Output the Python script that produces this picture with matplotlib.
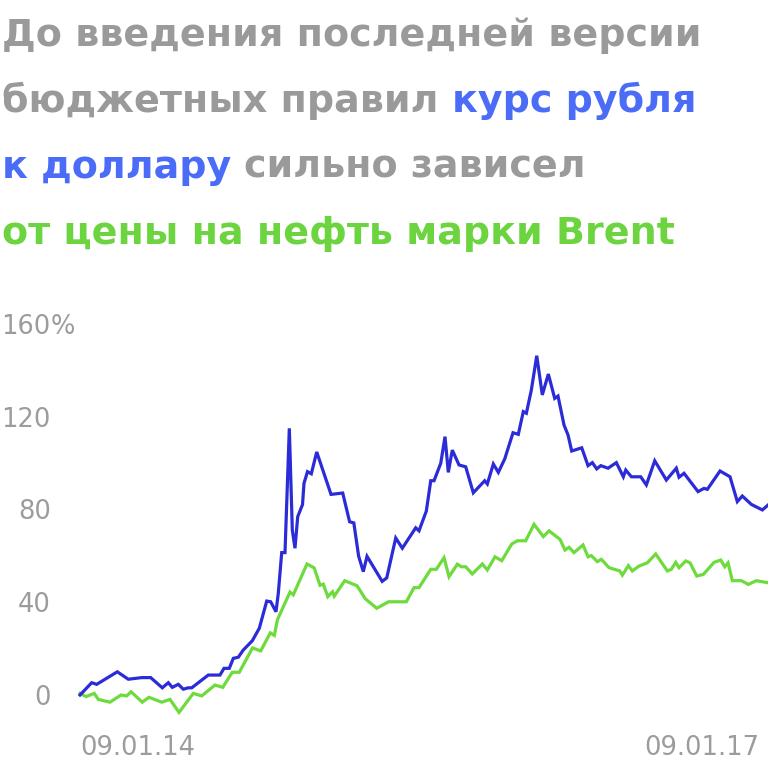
import matplotlib
matplotlib.use('Agg')
import matplotlib.pyplot as plt
import matplotlib.transforms as mtrans

# ---- data (percent change since 09.01.14; x = days since 09.01.14) ----
blue_days = [0, 22.7, 32.4, 72.5, 93.8, 119.9, 137.3, 159.9, 171.5, 179.3, 190.9, 200.7, 210.4, 217.0,
             249.2, 271.9, 279.7, 290.0, 297.8, 307.5, 317.2, 334.7, 348.3, 362.7, 370.4, 380.7, 385.2,
             391.8, 398.2, 406.6, 412.4, 417.6, 422.9, 432.2, 435.1, 441.9, 449.3, 459.8, 487.6, 510.3,
             523.7, 531.9, 541.2, 550.3, 557.5, 587.0, 595.8, 613.3, 626.1, 652.1, 658.5, 672.7, 681.3,
             687.7, 700.7, 709.0, 715.4, 723.2, 736.2, 749.2, 764.0, 786.1, 791.2, 802.9, 812.6, 825.0,
             841.1, 851.4, 861.1, 867.0, 876.7, 887.2, 898.0, 909.7, 922.1, 928.5, 940.2, 948.0, 955.1,
             974.6, 986.8, 995.2, 1003.7, 1011.5, 1025.7, 1041.8, 1055.4, 1060.1, 1071.0, 1089.2, 1100.1,
             1116.4, 1138.9, 1158.3, 1163.6, 1173.3, 1200.5, 1212.1, 1218.6, 1243.2, 1262.6, 1276.8,
             1286.5, 1304.0, 1325.4, 1336.4]
blue_vals = [0, 5.3, 4.6, 10.0, 6.8, 7.5, 7.5, 3.1, 5.3, 3.3, 4.6, 2.5, 3.1, 3.1,
             8.6, 8.6, 11.5, 11.5, 15.8, 16.3, 19.4, 23.4, 28.8, 40.5, 40.2, 35.9, 43.9,
             61.4, 61.4, 115.0, 71.1, 63.3, 76.9, 82.1, 91.3, 96.3, 95.4, 104.8, 86.5, 87.1,
             74.7, 74.2, 59.9, 53.2, 59.8, 49.0, 50.5, 67.7, 63.3, 72.1, 70.8, 79.3, 92.4,
             92.4, 99.9, 111.4, 96.0, 105.6, 99.2, 98.4, 87.2, 92.4, 91.0, 99.6, 96.0, 101.8,
             113.1, 112.4, 122.2, 121.5, 131.5, 146.3, 129.4, 138.4, 127.9, 128.9, 116.4, 112.1, 105.2,
             106.6, 98.9, 100.2, 97.5, 98.9, 97.8, 100.2, 94.1, 97.0, 94.1, 94.1, 90.6,
             101.0, 92.7, 97.8, 93.9, 95.6, 87.7, 89.1, 88.7, 96.6, 94.1, 83.4,
             85.8, 82.2, 79.8, 81.9]

green_days = [0, 11.7, 27.8, 35.5, 58.3, 79.6, 90.7, 99.1, 121.0, 134.0, 158.7, 174.8, 192.3, 220.1,
              236.4, 262.2, 277.2, 295.8, 309.4, 335.1, 351.0, 369.7, 377.4, 383.6, 407.9, 414.3, 440.9,
              454.9, 466.2, 472.6, 481.4, 490.5, 493.8, 514.2, 538.1, 554.2, 576.3, 599.3, 633.9, 648.8,
              658.5, 681.3, 692.1, 707.1, 716.8, 732.9, 740.7, 749.2, 762.0, 781.5, 791.2, 806.1, 819.2,
              838.6, 849.5, 865.8, 881.9, 900.0, 911.1, 932.4, 942.1, 949.9, 959.6, 977.1, 986.8, 993.3,
              1004.9, 1012.7, 1027.6, 1048.4, 1053.5, 1065.1, 1072.9, 1085.9, 1102.0, 1118.3, 1140.9,
              1148.6, 1157.2, 1163.6, 1176.6, 1185.0, 1198.0, 1210.8, 1231.6, 1244.6, 1252.4, 1258.8,
              1267.1, 1284.6, 1298.2, 1313.7, 1336.4]
green_vals = [0.7, -0.7, 0.7, -1.9, -3.1, 0.0, -0.4, 1.4, -3.1, -1.0, -3.1, -1.9, -7.5, 0.7,
              -0.4, 4.3, 3.3, 9.8, 9.8, 20.3, 19.0, 26.8, 25.7, 32.5, 44.4, 43.2, 56.5,
              54.8, 47.3, 47.8, 42.4, 44.5, 42.6, 49.3, 47.1, 41.5, 37.4, 40.2, 40.2, 46.3,
              46.3, 54.2, 54.2, 59.2, 51.0, 56.4, 55.3, 55.3, 52.2, 56.5, 53.9, 59.6, 57.9,
              65.1, 66.5, 66.5, 73.6, 68.3, 70.8, 67.1, 62.5, 63.7, 61.4, 64.7, 59.6, 60.1,
              57.5, 58.5, 54.9, 53.5, 51.7, 55.8, 53.5, 55.6, 57.0, 60.8, 53.5,
              54.2, 57.2, 54.9, 57.8, 57.0, 51.3, 52.0, 57.2, 58.2, 55.3, 57.0,
              49.3, 49.3, 47.7, 49.3, 48.4]

y_ticks = [0, 40, 80, 120, 160]
y_tick_labels = ['0', '40', '80', '120', '160']
x_ticks = [0, 1096]
x_tick_labels = ['09.01.14', '09.01.17']

GRAY = '#9a9a9a'
TBLUE = '#4a6cf7'
TGREEN = '#6cd43e'
LBLUE = '#2b2bd8'
LGREEN = '#6edb3c'
TICK = '#9c9c9c'

title_lines = [
    [("До введения последней версии", GRAY)],
    [("бюджетных правил", GRAY), ("курс рубля", TBLUE)],
    [("к доллару", TBLUE), ("сильно зависел", GRAY)],
    [("от цены на нефть марки Brent", TGREEN)],
]

W = H = 768
fig = plt.figure(figsize=(7.68, 7.68), dpi=100)
fig.patch.set_facecolor('white')

y0_px = 695.0
ppu = 2.319
ylo, yhi = -15, 165
top_px = y0_px - yhi * ppu
bot_px = y0_px - ylo * ppu
ax = fig.add_axes([80 / W, 1 - bot_px / H, 688 / W, (bot_px - top_px) / H])
ax.set_xlim(0, 1336.4)
ax.set_ylim(ylo, yhi)
for s in ax.spines.values():
    s.set_visible(False)

ax.plot(green_days, green_vals, color=LGREEN, lw=2.3, solid_joinstyle='miter', clip_on=False)
ax.plot(blue_days, blue_vals, color=LBLUE, lw=2.3, solid_joinstyle='miter', clip_on=False)

tick_font = dict(family='DejaVu Sans', weight='normal', size=18.5)
ax.set_yticks(y_ticks)
ax.set_yticklabels(y_tick_labels, color=TICK, fontdict=tick_font)
ax.tick_params(axis='y', length=0, pad=21)
ax.set_xticks(x_ticks)
ax.set_xticklabels(x_tick_labels, color=TICK, fontdict=tick_font, ha='left')
ax.tick_params(axis='x', length=0, pad=4)

fig.canvas.draw()
renderer = fig.canvas.get_renderer()

# "%" after 160
lab160 = [t for t in ax.get_yticklabels() if t.get_text() == '160'][0]
bb = lab160.get_window_extent(renderer)
fig.text(bb.x1 / W, 160, '%', color=TICK, fontdict=tick_font, ha='left', va='center_baseline',
         transform=mtrans.blended_transform_factory(fig.transFigure, ax.transData))

# title: fit first line width to ~697 px
tsize = 26.0
probe = fig.text(0, 0, title_lines[0][0][0], family='DejaVu Sans', weight='bold', size=tsize)
w0 = probe.get_window_extent(renderer).width
probe.remove()
tsize = tsize * 697.0 / w0
tfont = dict(family='DejaVu Sans', weight='bold', size=tsize)
baselines = [46, 112, 178, 244]
sp = fig.text(0, 0, 'x x', fontdict=tfont)
nsp = fig.text(0, 0, 'xx', fontdict=tfont)
space_w = sp.get_window_extent(renderer).width - nsp.get_window_extent(renderer).width
sp.remove(); nsp.remove()
for line, base in zip(title_lines, baselines):
    x = 2
    for i, (txt, col) in enumerate(line):
        if i > 0:
            x += space_w
        t = fig.text(x / W, 1 - base / H, txt, color=col, fontdict=tfont, ha='left', va='baseline')
        x = t.get_window_extent(renderer).x1

fig.savefig('out.png', dpi=100, facecolor='white')
